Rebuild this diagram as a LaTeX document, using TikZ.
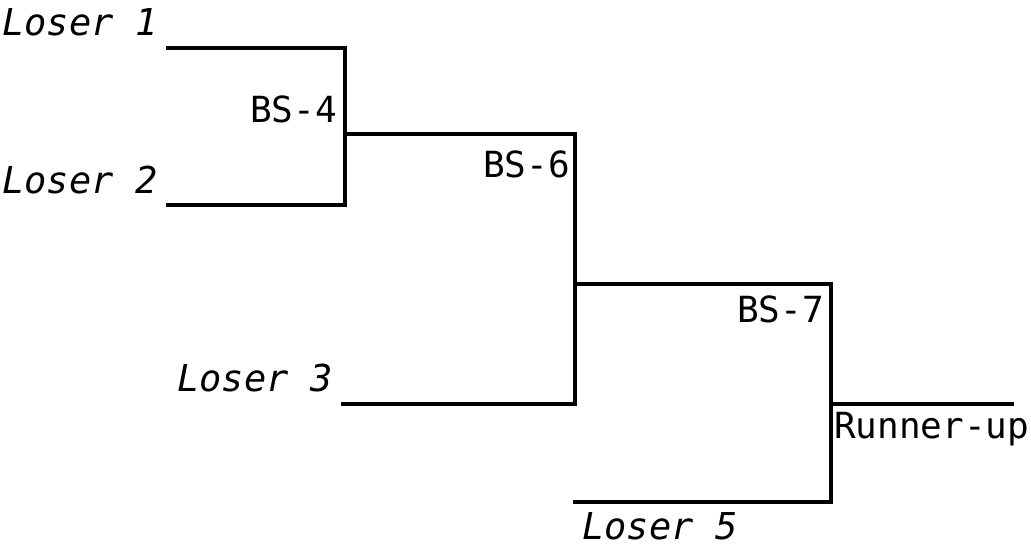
\documentclass[tikz,border=0pt]{standalone}
\usepackage{fontspec}
\setmonofont{DejaVu Sans Mono}
\begin{document}
\begin{tikzpicture}[x=1pt,y=-1pt,
  bracket/.style={line width=4pt, line cap=rect, line join=miter},
  loser/.style={inner sep=0pt, font=\fontsize{37}{42}\selectfont\ttfamily\itshape},
  match/.style={inner sep=0pt, font=\fontsize{36}{41}\selectfont\ttfamily}]
\useasboundingbox (0,0) rectangle (1031,546);
% coordinates
\coordinate (l1s) at (168,48);
\coordinate (l1e) at (345,48);
\coordinate (l2s) at (168,205);
\coordinate (l2e) at (345,205);
\coordinate (bs4) at (345,134);
\coordinate (bs4e) at (575,134);
\coordinate (l3s) at (343,404);
\coordinate (l3e) at (575,404);
\coordinate (bs6) at (575,284);
\coordinate (bs6e) at (831,284);
\coordinate (l5s) at (575,502);
\coordinate (l5e) at (831,502);
\coordinate (bs7) at (831,404);
\coordinate (ru) at (1012,404);
% brackets
\draw[bracket] (l1s) -- (l1e) -- (l2e) -- (l2s);
\draw[bracket] (bs4) -- (bs4e) -- (l3e) -- (l3s);
\draw[bracket] (bs6) -- (bs6e) -- (l5e) -- (l5s);
\draw[bracket] (bs7) -- (ru);
% labels
\node[loser, anchor=base west] (t1) at (2,35) {Loser 1};
\node[loser, anchor=base west] (t2) at (2,193) {Loser 2};
\node[loser, anchor=base west] (t3) at (177,391) {Loser 3};
\node[loser, anchor=base west] (t5) at (582,539) {Loser 5};
\node[match, anchor=base east] (m4) at (337,122) {BS-4};
\node[match, anchor=base east] (m6) at (570,177) {BS-6};
\node[match, anchor=base east] (m7) at (824,322) {BS-7};
\node[match, anchor=base west] (m8) at (834,438) {Runner-up};
\end{tikzpicture}
\end{document}
